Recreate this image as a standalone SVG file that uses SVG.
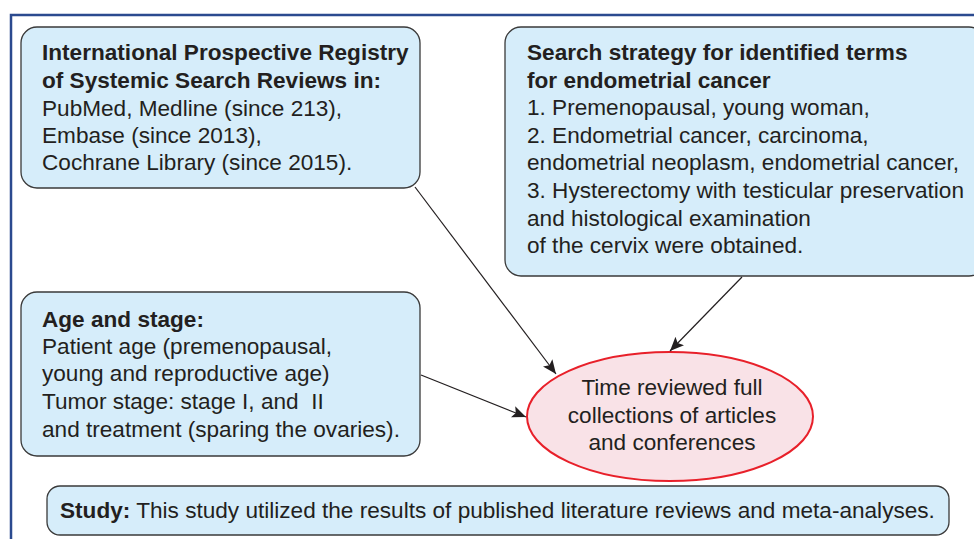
<svg xmlns="http://www.w3.org/2000/svg" width="974" height="539" viewBox="0 0 974 539">
<style>
.box{fill:#d6edfa;stroke:#3a3a3a;stroke-width:1.3}
.t{font-family:"Liberation Sans",Arial,sans-serif;font-size:22.6px;fill:#231f20;white-space:pre}
.b{font-weight:bold}
.conn{stroke:#231f20;stroke-width:1.2;fill:none}
</style>
<defs>
<marker id="arr" viewBox="0 0 14 12" refX="14" refY="6" markerWidth="14" markerHeight="12" markerUnits="userSpaceOnUse" orient="auto">
<path d="M0,0 L14,6 L0,12 L3,6 Z" fill="#231f20"/>
</marker>
</defs>
<rect width="974" height="539" fill="#ffffff"/>
<path d="M11,539 V15 H974" fill="none" stroke="#2b4a8f" stroke-width="2.5"/>
<g id="registry">
<rect class="box" x="21" y="27" width="399" height="161" rx="16"/>
<text class="t" x="42"><tspan class="b" y="60">International Prospective Registry</tspan><tspan class="b" x="42" y="88">of Systemic Search Reviews in:</tspan><tspan x="42" y="116">PubMed, Medline (since 213),</tspan><tspan x="42" y="143">Embase (since 2013),</tspan><tspan x="42" y="170">Cochrane Library (since 2015).</tspan></text>
</g>
<g id="search">
<rect class="box" x="505" y="27" width="480" height="249" rx="16"/>
<text class="t" x="527"><tspan class="b" y="60">Search strategy for identified terms</tspan><tspan class="b" x="527" y="88">for endometrial cancer</tspan><tspan x="527" y="115">1. Premenopausal, young woman,</tspan><tspan x="527" y="143">2. Endometrial cancer, carcinoma,</tspan><tspan x="527" y="170">endometrial neoplasm, endometrial cancer,</tspan><tspan x="527" y="198">3. Hysterectomy with testicular preservation</tspan><tspan x="527" y="226">and histological examination</tspan><tspan x="527" y="253">of the cervix were obtained.</tspan></text>
</g>
<g id="age">
<rect class="box" x="21" y="292" width="399" height="164" rx="16"/>
<text class="t" x="42"><tspan class="b" y="327">Age and stage:</tspan><tspan x="42" y="354">Patient age (premenopausal,</tspan><tspan x="42" y="381">young and reproductive age)</tspan><tspan x="42" y="409">Tumor stage: stage I, and  II</tspan><tspan x="42" y="437">and treatment (sparing the ovaries).</tspan></text>
</g>
<g id="review">
<ellipse cx="670" cy="416.5" rx="143" ry="64.5" fill="#f9e2e7" stroke="#e8202a" stroke-width="2"/>
<text class="t" text-anchor="middle"><tspan x="672" y="395">Time reviewed full</tspan><tspan x="672" y="423">collections of articles</tspan><tspan x="672" y="450">and conferences</tspan></text>
</g>
<g id="study">
<rect class="box" x="47" y="486" width="902" height="49" rx="13"/>
<text class="t" x="60" y="518"><tspan class="b">Study:</tspan> This study utilized the results of published literature reviews and meta-analyses.</text>
</g>
<g id="connectors">
<line class="conn" x1="415" y1="187" x2="556" y2="374" marker-end="url(#arr)"/>
<line class="conn" x1="742" y1="277" x2="670" y2="351" marker-end="url(#arr)"/>
<line class="conn" x1="421" y1="375" x2="526" y2="417" marker-end="url(#arr)"/>
</g>
</svg>
